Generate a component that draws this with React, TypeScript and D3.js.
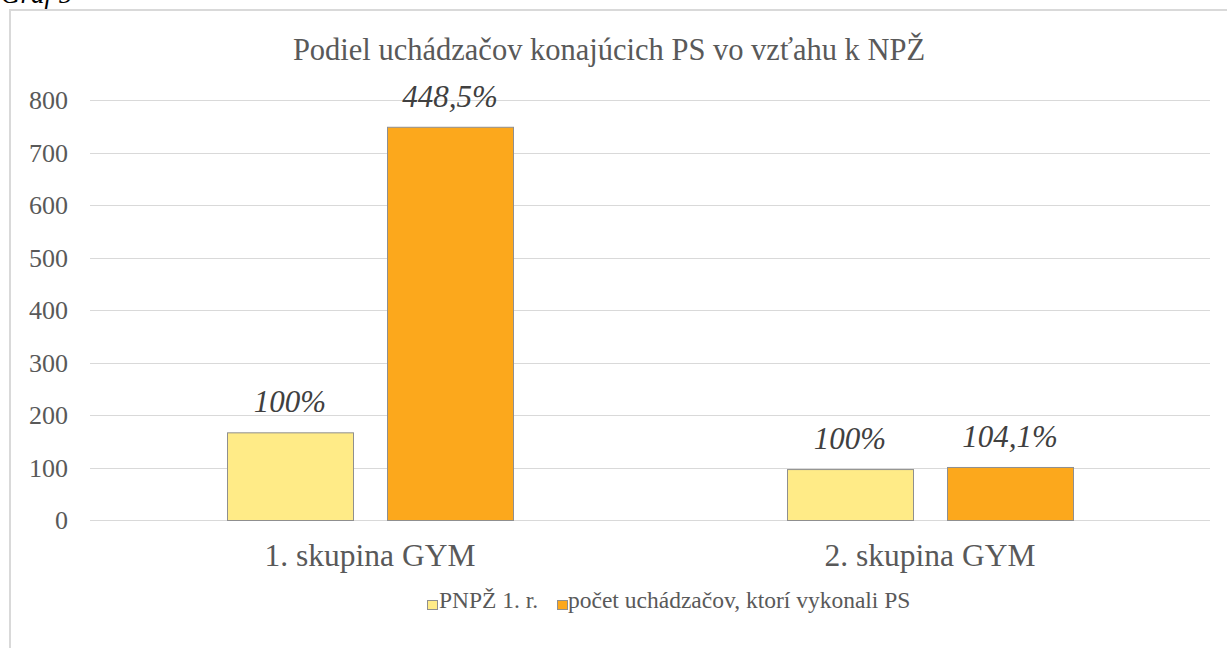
import React from "react";
import * as d3 from "d3";

const categories = ["1. skupina GYM", "2. skupina GYM"];
const seriesNames = ["PNPŽ 1. r.", "počet uchádzačov, ktorí vykonali PS"];
const pnpzValues = [167, 97];
const uchadzaciValues = [749, 101];
const pnpzLabels = ["100%", "100%"];
const uchadzaciLabels = ["448,5%", "104,1%"];
const yTicks = [0, 100, 200, 300, 400, 500, 600, 700, 800];
const title = "Podiel uchádzačov konajúcich PS vo vzťahu k NPŽ";
const colors = ["#FFEB87", "#FCA81C"];

const W = 1227;
const H = 648;
const FONT = "Liberation Serif";

export default function App() {
  const x0 = d3.scaleBand<string>().domain(categories).range([90, 1210]).padding(0);
  const y = d3.scaleLinear().domain([0, 800]).range([520, 100]);
  const series = [
    { name: seriesNames[0], values: pnpzValues, labels: pnpzLabels, color: colors[0] },
    { name: seriesNames[1], values: uchadzaciValues, labels: uchadzaciLabels, color: colors[1] },
  ];
  const groupW = 286;

  return (
    <svg width={W} height={H} style={{ position: "absolute", left: 0, top: 0, background: "#fff" }}>
      <text x={1} y={3} fontFamily={FONT} fontStyle="italic" fontSize={27} fill="#000">Graf 5</text>
      <rect x={10} y={10} width={W + 20} height={H + 20} fill="#fff" stroke="#d9d9d9" strokeWidth={2} />
      <text x={609} y={60} textAnchor="middle" fontFamily={FONT} fontSize={30.5} fill="#595959">{title}</text>
      {yTicks.map((t) => (
        <g key={t}>
          <line x1={90} x2={1210} y1={Math.round(y(t)) + 0.5} y2={Math.round(y(t)) + 0.5} stroke="#d9d9d9" strokeWidth={1} />
          <text x={68} y={y(t)} dy="0.35em" textAnchor="end" fontFamily={FONT} fontSize={26} fill="#595959">{t}</text>
        </g>
      ))}
      {categories.map((c, ci) => {
        const cx = (x0(c) as number) + x0.bandwidth() / 2;
        const x1 = d3.scaleBand<string>().domain(seriesNames).range([cx - groupW / 2, cx + groupW / 2]).paddingInner(34 / 160).paddingOuter(0);
        return (
          <g key={c}>
            {series.map((s) => {
              const v = s.values[ci];
              const bx = x1(s.name) as number;
              const bw = x1.bandwidth();
              return (
                <g key={s.name}>
                  <rect x={bx + 0.5} y={y(v) + 0.5} width={bw} height={y(0) - y(v)} fill={s.color} stroke="#8f8f8f" strokeWidth={1} />
                  <text x={bx + bw / 2} y={y(v) - 20} textAnchor="middle" fontFamily={FONT} fontStyle="italic" fontSize={31} fill="#404040">{s.labels[ci]}</text>
                </g>
              );
            })}
            <text x={cx} y={566} textAnchor="middle" fontFamily={FONT} fontSize={31.5} fill="#595959">{c}</text>
          </g>
        );
      })}
      <g>
        <rect x={427.5} y={600.5} width={10} height={9} fill={colors[0]} stroke="#8f8f8f" strokeWidth={1} />
        <text x={439} y={608} fontFamily={FONT} fontSize={23.5} fill="#595959">{seriesNames[0]}</text>
        <rect x={557.5} y={600.5} width={10} height={9} fill={colors[1]} stroke="#8f8f8f" strokeWidth={1} />
        <text x={568} y={608} fontFamily={FONT} fontSize={23.5} fill="#595959">{seriesNames[1]}</text>
      </g>
    </svg>
  );
}
